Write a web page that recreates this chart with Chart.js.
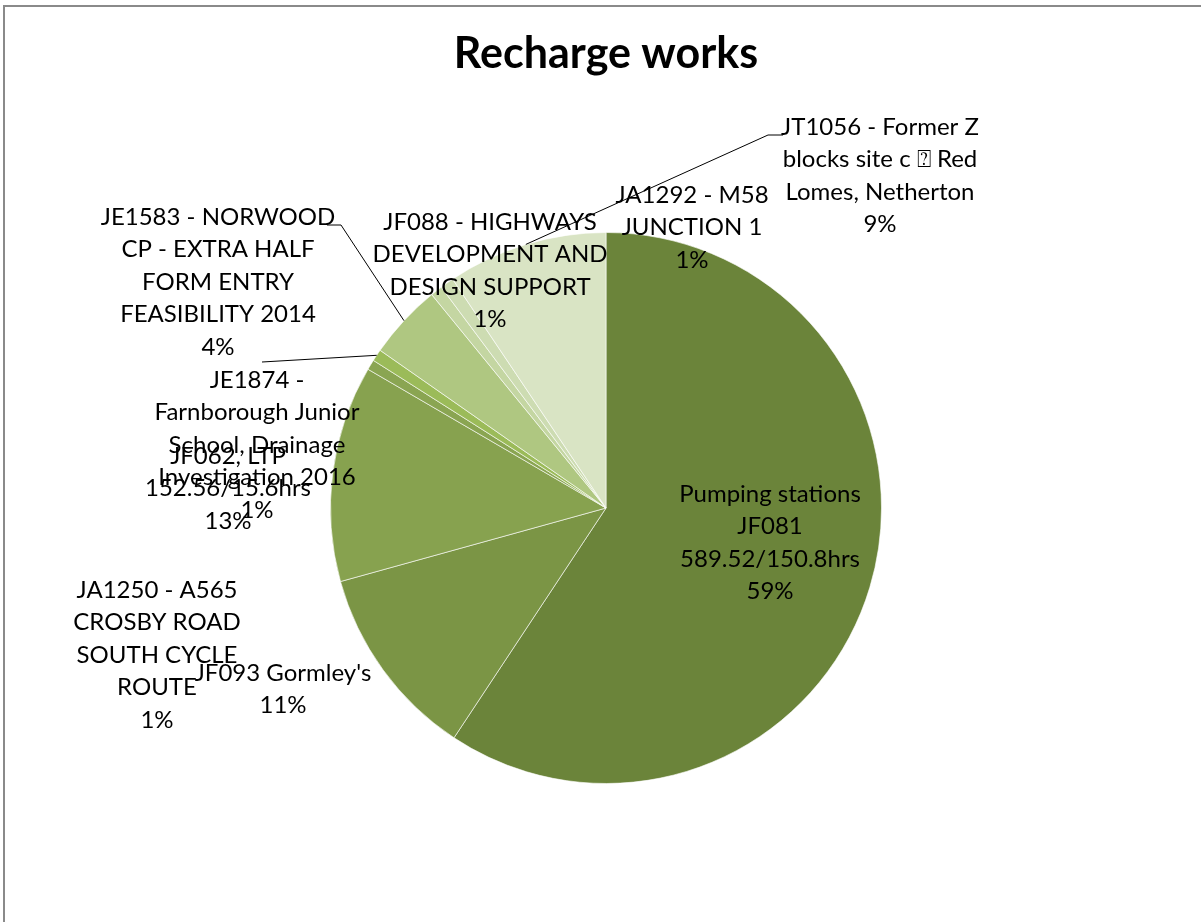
<!DOCTYPE html>
<html>
<head>
<meta charset="utf-8">
<title>Recharge works</title>
<script src="https://cdn.jsdelivr.net/npm/chart.js@4.4.0/dist/chart.umd.min.js"></script>
<style>
    html, body { margin: 0; padding: 0; background: #fff; overflow: hidden; }
    #wrap { position: relative; width: 1201px; height: 922px; }
    #frame {
        position: absolute; left: 3px; top: 5px;
        width: 1400px; height: 1200px;
        border: 2px solid #8a8a8a;
        pointer-events: none;
    }
    canvas { position: absolute; left: 0; top: 0; }
</style>
</head>
<body>
<div id="wrap">
    <div id="frame"></div>
    <canvas id="pie" width="1201" height="922"></canvas>
</div>
<script>
// Slice data, clockwise from 12 o'clock
const categoryLines = [
    ['Pumping stations', 'JF081', '589.52/150.8hrs'],
    ["JF093 Gormley's"],
    ['JF062, LTP', '152.56/15.6hrs'],
    ['JA1250 - A565', 'CROSBY ROAD', 'SOUTH CYCLE', 'ROUTE'],
    ['JE1874 -', 'Farnborough Junior', 'School, Drainage', 'Investigation 2016'],
    ['JE1583 - NORWOOD', 'CP - EXTRA HALF', 'FORM ENTRY', 'FEASIBILITY 2014'],
    ['JF088 - HIGHWAYS', 'DEVELOPMENT AND', 'DESIGN SUPPORT'],
    ['JA1292 - M58', 'JUNCTION 1'],
    ['JT1056 - Former Z', 'blocks site c \u2370 Red', 'Lomes, Netherton']
];
const shares = [59.3, 11.4, 12.7, 0.6, 0.7, 4.4, 0.7, 0.8, 9.4];
const sliceColors = ['#6b843a', '#7b9545', '#87a24f', '#8aa552', '#9bbb59',
                     '#afc781', '#c4d6a2', '#cddcb2', '#d9e4c4'];

// Label placement, px relative to the pie centre (x of text centre, y of first line)
const labelOffsets = [
    [164, -14], [-323, 165], [-378, -52], [-449, 82], [-349, -128],
    [-388, -291], [-116, -286], [86, -313], [274, -381]
];
// Leader lines: start point and elbow x relative to centre, or null
const leaders = [
    null, null, null, null,
    { start: [-344, -146], elbow: null },
    { start: [-279, -283], elbow: -265 },
    null, null,
    { start: [177, -373], elbow: 162 }
];

const LINE_H = 32.5;
const FONT = '24px Lato, "Open Sans", sans-serif';

const labelPlugin = {
    id: 'excelLabels',
    afterDraw(chart) {
        const ctx = chart.ctx;
        const meta = chart.getDatasetMeta(0);
        const total = shares.reduce((a, b) => a + b, 0);
        const cx = meta.data[0].x;
        const cy = meta.data[0].y;

        // title
        ctx.save();
        ctx.fillStyle = '#000';
        ctx.textAlign = 'center';
        ctx.textBaseline = 'middle';
        ctx.font = 'bold 43px Lato, "Open Sans", sans-serif';
        ctx.fillText('Recharge works', cx, 54);

        // leader lines
        ctx.strokeStyle = '#000';
        ctx.lineWidth = 1;
        leaders.forEach((ld, i) => {
            if (!ld) return;
            const arc = meta.data[i];
            const mid = (arc.startAngle + arc.endAngle) / 2;
            const ex = arc.x + Math.cos(mid) * arc.outerRadius;
            const ey = arc.y + Math.sin(mid) * arc.outerRadius;
            ctx.beginPath();
            ctx.moveTo(cx + ld.start[0], cy + ld.start[1]);
            if (ld.elbow !== null) ctx.lineTo(cx + ld.elbow, cy + ld.start[1]);
            ctx.lineTo(ex, ey);
            ctx.stroke();
        });

        // data labels
        ctx.font = FONT;
        categoryLines.forEach((lines, i) => {
            const pct = Math.round(shares[i] / total * 100) + '%';
            const all = lines.concat([pct]);
            const x = cx + labelOffsets[i][0];
            const y0 = cy + labelOffsets[i][1];
            all.forEach((t, k) => ctx.fillText(t, x, y0 + k * LINE_H));
        });
        ctx.restore();
    }
};

new Chart(document.getElementById('pie'), {
    type: 'pie',
    data: {
        labels: categoryLines.map(l => l.join(' ')),
        datasets: [{
            data: shares,
            backgroundColor: sliceColors,
            borderColor: 'rgba(255,255,255,0.6)',
            borderWidth: 1
        }]
    },
    options: {
        responsive: false,
        animation: false,
        layout: { padding: { left: 330, right: 319, top: 232, bottom: 138 } },
        plugins: {
            legend: { display: false },
            title: { display: false },
            tooltip: { enabled: false }
        },
        events: []
    },
    plugins: [labelPlugin]
});
</script>
</body>
</html>
